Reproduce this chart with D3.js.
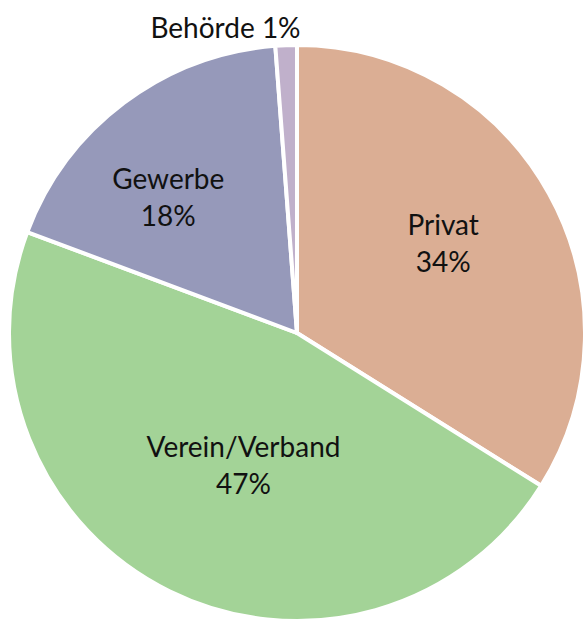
<!DOCTYPE html>
<html>
<head>
<meta charset="utf-8">
<script src="https://cdn.jsdelivr.net/npm/d3@7"></script>
<style>
  body { margin: 0; background: #fff; }
  text { font-family: "Lato", "Noto Sans", sans-serif; fill: #111; }
</style>
</head>
<body>
<div id="chart"></div>
<script>
"use strict";

var categories = ["Privat", "Verein/Verband", "Gewerbe", "Behörde"];
var shares = [33.9, 46.8, 18.1, 1.2];
var colours = ["#dbae94", "#a3d397", "#9699ba", "#c0b0cb"];

// nudge each label away from the slice centroid, like the original layout
var labelNudge = {
    "Privat": [-5, -5],
    "Verein/Verband": [23, -22],
    "Gewerbe": [-25, 3],
    "Behörde": [-65, -132]
};

function pieChart() {
    var w = 584;
    var h = 621;
    var r = 288;
    var cx = 297, cy = 333;

    var data = categories.map(function(c, i){
        return { name: c, value: shares[i], colour: colours[i] };
    });

    var svg = d3.select("#chart")
                .append("svg")
                .attr("width", w)
                .attr("height", h);

    var g = svg.append("g")
               .attr("transform", "translate(" + cx + "," + cy + ")");

    var pie = d3.pie()
                .sort(null)
                .value(function(d){ return d.value; });

    var arc = d3.arc().innerRadius(0).outerRadius(r);
    var labelArc = d3.arc().innerRadius(r * 0.6).outerRadius(r * 0.6);

    g.selectAll("path")
     .data(pie(data))
     .enter()
     .append("path")
     .attr("d", arc)
     .style("fill", function(d){ return d.data.colour; })
     .style("stroke", "#fff")
     .style("stroke-width", 4)
     .style("stroke-linejoin", "round");

    var labels = g.selectAll("text.label")
     .data(pie(data))
     .enter()
     .append("text")
     .attr("class", "label")
     .attr("text-anchor", "middle")
     .style("font-size", "28px")
     .attr("transform", function(d){
         var c = labelArc.centroid(d);
         var n = labelNudge[d.data.name];
         return "translate(" + (c[0] + n[0]) + "," + (c[1] + n[1]) + ")";
     });

    labels.each(function(d){
        var t = d3.select(this);
        var pct = Math.round(d.data.value) + "%";
        if (d.data.value < 5) {
            // small slice: one line, outside the pie
            t.append("tspan").attr("x", 0).attr("dy", "0.35em")
             .text(d.data.name + " " + pct);
        } else {
            t.append("tspan").attr("x", 0).attr("y", -9).text(d.data.name);
            t.append("tspan").attr("x", 0).attr("y", 28).text(pct);
        }
    });
}

window.onload = pieChart;
</script>
</body>
</html>
